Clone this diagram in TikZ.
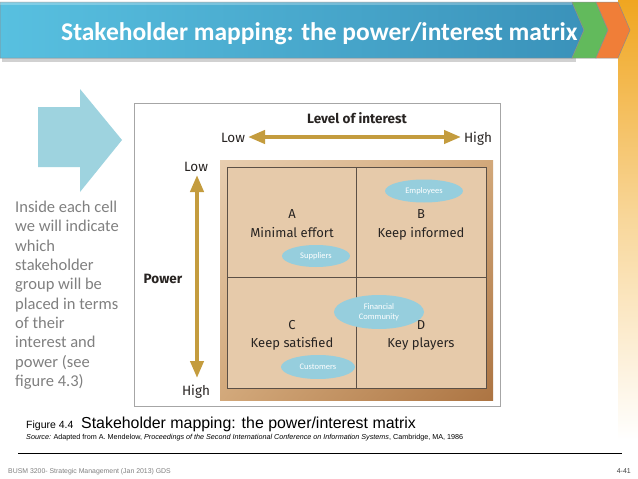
\documentclass[tikz,border=0pt]{standalone}
\usepackage{fontspec}
\setmainfont{Carlito}
\newfontfamily\dinfont{Fira Sans}
\newfontfamily\arialfont{Liberation Sans}
\usetikzlibrary{arrows.meta,shapes.geometric,shadings}
\definecolor{blueL}{RGB}{88,192,224}
\definecolor{blueR}{RGB}{58,146,186}
\definecolor{chgreen}{RGB}{98,186,92}
\definecolor{chorange}{RGB}{240,126,56}
\definecolor{barorange}{RGB}{240,166,32}
\definecolor{arrowblue}{RGB}{158,211,223}
\definecolor{ellblue}{RGB}{150,206,221}
\definecolor{gold}{RGB}{196,156,62}
\definecolor{cellc}{RGB}{230,202,170}
\definecolor{frameL}{RGB}{232,206,176}
\definecolor{frameM}{RGB}{210,168,122}
\definecolor{frameD}{RGB}{172,116,66}
\definecolor{gridc}{RGB}{92,80,70}
\definecolor{txtgray}{RGB}{128,128,128}
\definecolor{labc}{RGB}{40,36,34}
\tikzset{
  chev/.style={draw=black!45, line width=0.5pt},
  goldarrow/.style={draw=gold, line width=4pt,
     {Triangle[length=17pt,width=13pt]}-{Triangle[length=17pt,width=13pt]}},
  cellletter/.style={font=\dinfont\fontsize{13}{15}\selectfont, text=labc, anchor=base, inner sep=0pt},
  axislab/.style={font=\dinfont\fontsize{13.5}{16}\selectfont, text=labc, anchor=base, inner sep=0pt},
  axisbold/.style={font=\dinfont\bfseries\fontsize{13.5}{16}\selectfont, text=labc, anchor=base, inner sep=0pt},
  stake/.style={ellipse, fill=ellblue, draw=none, text=white, inner sep=0pt,
     font=\fontsize{8.5}{9.5}\selectfont, align=center}
}
\begin{document}
\begin{tikzpicture}[x=1pt,y=-1pt]
\useasboundingbox (0,0) rectangle (638,479);
\fill[white] (0,0) rectangle (638,479);
% orange side bar
\shade[top color=barorange, bottom color=white, middle color=barorange!45] (618,0) rectangle (638,440);
% header shadow
\fill[black!18] (2,58) rectangle (576,62);
% header chevrons
\shade[left color=blueL, right color=blueR, chev] (0,2) -- (572,2) -- (584,30) -- (572,58) -- (0,58) -- cycle;
\fill[white, opacity=0.25] (0,2) rectangle (572,5);
\fill[chgreen, chev] (572,2) -- (596,2) -- (608,30) -- (596,58) -- (572,58) -- (584,30) -- cycle;
\fill[chorange, chev] (596,2) -- (618,2) -- (630,30) -- (618,58) -- (596,58) -- (608,30) -- cycle;
\node[anchor=base west, inner sep=0pt, text=white, font=\bfseries\fontsize{25.5}{30}\selectfont] (title) at (61,41) {Stakeholder mapping: the power/interest matrix};

% left big arrow
\fill[arrowblue] (38,107) -- (80,107) -- (80,89) -- (122,140) -- (80,192) -- (80,167) -- (38,167) -- cycle;
\node[anchor=north west, inner sep=0pt, align=left, text=txtgray, font=\fontsize{16.5}{19.33}\selectfont] (expl) at (15,201)
 {Inside each cell\\we will indicate\\which\\stakeholder\\group will be\\placed in terms\\of their\\interest and\\power (see\\figure 4.3)};

% figure box
\draw[black!35, line width=0.8pt, fill=white] (134,103) rectangle (500,406);
\shade[upper left=frameL, upper right=frameM, lower left=frameM, lower right=frameD] (220,160) rectangle (493,400);
\fill[cellc] (227,167) rectangle (486,388);
\draw[gridc, line width=1pt] (227,167) rectangle (486,388);
\draw[gridc, line width=1pt] (356,167) -- (356,388);
\draw[gridc, line width=1pt] (227,277) -- (486,277);

% axis labels and arrows
\node[axisbold] (loi) at (357,123) {Level of interest};
\node[axislab] (ilow) at (233,142) {Low};
\node[axislab] (ihigh) at (478,142) {High};
\coordinate (hL) at (248,137);
\coordinate (hR) at (461,137);
\draw[goldarrow] (hL) -- (hR);
\node[axislab] (plow) at (196,171) {Low};
\node[axislab] (phigh) at (196,395) {High};
\node[axisbold] (pow) at (163,283) {Power};
\coordinate (vT) at (197,175);
\coordinate (vB) at (197,378);
\draw[goldarrow] (vT) -- (vB);

% cell texts
\node[cellletter] (A) at (292,218) {A};
\node[cellletter] (Atx) at (292,237) {Minimal effort};
\node[cellletter] (B) at (421,218) {B};
\node[cellletter] (Btx) at (421,237) {Keep informed};
\node[cellletter] (C) at (292,329) {C};
\node[cellletter] (Ctx) at (292,347) {Keep satisfied};
\node[cellletter] (D) at (421,329) {D};
\node[cellletter] (Dtx) at (421,347) {Key players};

% stakeholders
\node[stake, minimum width=78pt, minimum height=23pt] (emp) at (424,191) {Employees};
\node[stake, minimum width=68pt, minimum height=22pt] (sup) at (316,256) {Suppliers};
\node[stake, minimum width=90pt, minimum height=34pt] (fin) at (379,312) {Financial\\Community};
\node[stake, minimum width=74pt, minimum height=24pt] (cus) at (318,367) {Customers};

% caption
\node[anchor=base west, inner sep=0pt, font=\arialfont\fontsize{10.5}{12}\selectfont] (fig) at (26,428) {Figure 4.4};
\node[anchor=base west, inner sep=0pt, font=\arialfont\fontsize{15.9}{18}\selectfont] (cap) at (81,428) {Stakeholder mapping: the power/interest matrix};
\node[anchor=base west, inner sep=0pt, font=\arialfont\fontsize{7.2}{8}\selectfont] (src) at (26,439)
 {\textit{Source:} Adapted from A. Mendelow, \textit{Proceedings of the Second International Conference on Information Systems}, Cambridge, MA, 1986};
\coordinate (ruleL) at (18,453);
\coordinate (ruleR) at (622,453);
\draw[black, line width=1pt] (ruleL) -- (ruleR);
\node[anchor=base west, inner sep=0pt, text=txtgray, font=\arialfont\fontsize{6.9}{8}\selectfont] (foot) at (8,473) {BUSM 3200- Strategic Management (Jan 2013) GDS};
\node[anchor=base east, inner sep=0pt, text=black!75, font=\arialfont\fontsize{7}{8}\selectfont] (pg) at (631,473) {4-41};
\end{tikzpicture}
\end{document}
